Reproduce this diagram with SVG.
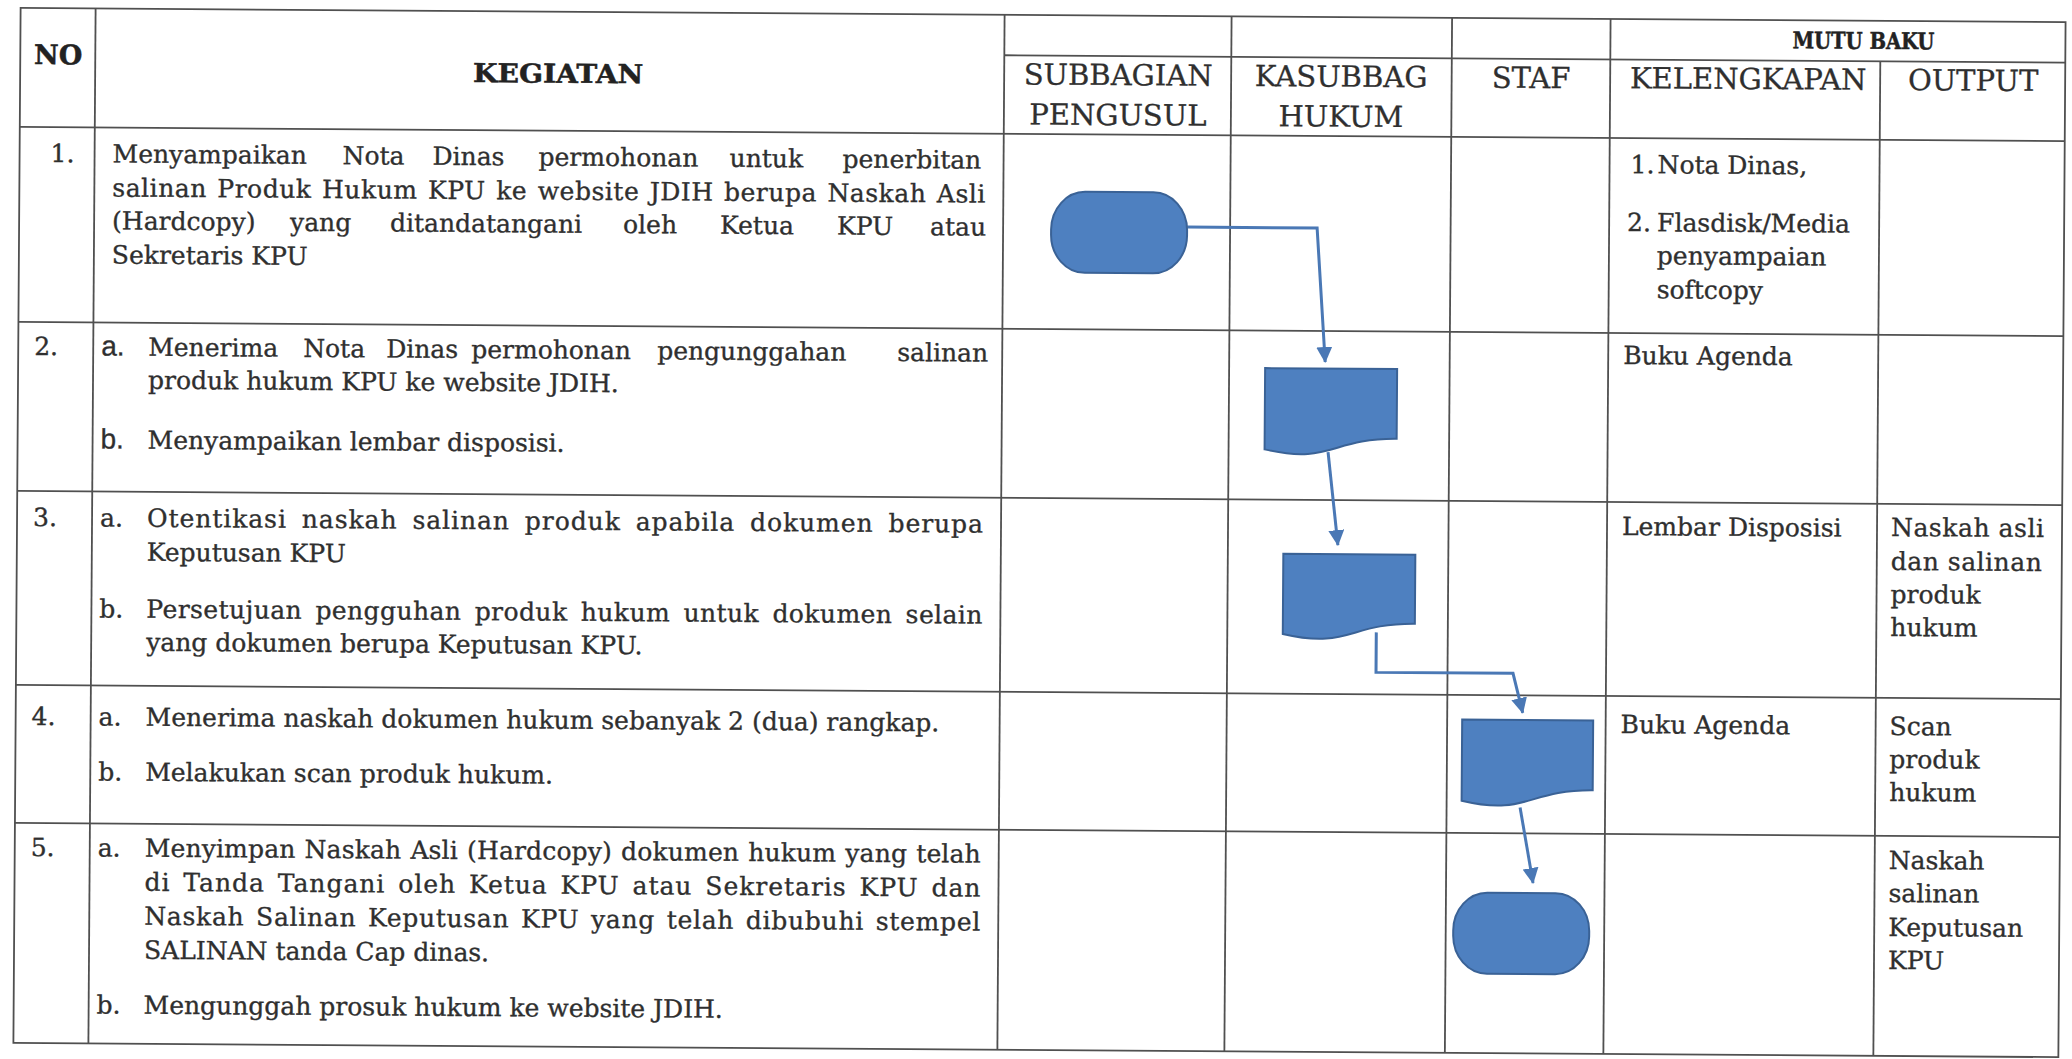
<svg xmlns="http://www.w3.org/2000/svg" width="2072" height="1059" viewBox="0 0 2072 1059">
<defs>
<style>
.grid{stroke:#505050;stroke-width:1.8;fill:none}
.t{font-family:"DejaVu Serif","Liberation Serif",serif;font-size:25px;fill:#2f2f2f;stroke:#2f2f2f;stroke-width:0.35}
.h{font-family:"DejaVu Serif","Liberation Serif",serif;font-size:29px;fill:#2f2f2f;stroke:#2f2f2f;stroke-width:0.3;text-anchor:middle}
.hb{font-family:"DejaVu Serif","Liberation Serif",serif;font-weight:bold;fill:#222;stroke:#222;stroke-width:0.5;text-anchor:middle}
.ab{font-family:"Liberation Sans","DejaVu Sans",sans-serif;font-size:28px;fill:#2f2f2f;stroke:#2f2f2f;stroke-width:0.3}
.shape{fill:#4e80c0;stroke:#3a6296;stroke-width:2}
.conn{fill:none;stroke:#4a78b5;stroke-width:3}
</style>
<marker id="arr" markerUnits="userSpaceOnUse" markerWidth="16" markerHeight="16" viewBox="0 0 16 16" refX="15" refY="8" orient="auto">
<path d="M0,0 L16,8 L0,16 Z" fill="#4a78b5"/>
</marker>
</defs>
<rect width="2072" height="1059" fill="#ffffff"/>
<g transform="rotate(0.4 1036 530)">
<g id="table-grid" class="grid">
<rect x="17" y="15" width="2045" height="1035"/>
<line x1="1001" y1="55.5" x2="2062" y2="55.5"/>
<line x1="17" y1="134" x2="2062" y2="134"/>
<line x1="17" y1="329" x2="2062" y2="329"/>
<line x1="17" y1="498" x2="2062" y2="498"/>
<line x1="17" y1="692" x2="2062" y2="692"/>
<line x1="17" y1="830" x2="2062" y2="830"/>
<line x1="92" y1="15" x2="92" y2="1050"/>
<line x1="1001" y1="15" x2="1001" y2="1050"/>
<line x1="1228" y1="15" x2="1228" y2="1050"/>
<line x1="1448.5" y1="15" x2="1448.5" y2="1050"/>
<line x1="1607" y1="15" x2="1607" y2="1050"/>
<line x1="1877" y1="55.5" x2="1877" y2="1050"/>
</g>
<g id="header">
<text class="hb" x="55" y="71" font-size="27">NO</text>
<text class="hb" x="555" y="86" font-size="26" textLength="170" lengthAdjust="spacingAndGlyphs">KEGIATAN</text>
<text class="hb" x="1860" y="43" font-size="23" textLength="142" lengthAdjust="spacingAndGlyphs">MUTU BAKU</text>
<text class="h" x="1115" y="84.5">SUBBAGIAN</text>
<text class="h" x="1115" y="124.5">PENGUSUL</text>
<text class="h" x="1338" y="84.5">KASUBBAG</text>
<text class="h" x="1338" y="124.5">HUKUM</text>
<text class="h" x="1528" y="84.5">STAF</text>
<text class="h" x="1745" y="84">KELENGKAPAN</text>
<text class="h" x="1970" y="84">OUTPUT</text>
</g>
<g id="row1-text">
<text class="t" x="48" y="169">1.</text>
<text class="t" y="169"><tspan x="110">Menyampaikan</tspan><tspan x="340">Nota</tspan><tspan x="430">Dinas</tspan><tspan x="536">permohonan</tspan><tspan x="727">untuk</tspan><tspan x="840">penerbitan</tspan></text>
<text class="t" x="110" y="203" word-spacing="2" textLength="873" lengthAdjust="spacing">salinan Produk Hukum KPU ke website JDIH berupa Naskah Asli</text>
<text class="t" y="236"><tspan x="110">(Hardcopy)</tspan><tspan x="288">yang</tspan><tspan x="388">ditandatangani</tspan><tspan x="621">oleh</tspan><tspan x="718">Ketua</tspan><tspan x="835">KPU</tspan><tspan x="928">atau</tspan></text>
<text class="t" x="110" y="270">Sekretaris KPU</text>
<text class="t" x="1628" y="169">1.</text>
<text class="t" x="1655" y="169">Nota Dinas,</text>
<text class="t" x="1625" y="227">2.</text>
<text class="t" x="1655" y="227">Flasdisk/Media</text>
<text class="t" x="1655" y="260">penyampaian</text>
<text class="t" x="1655" y="294">softcopy</text>
</g>
<g id="row2-text">
<text class="t" x="33" y="362">2.</text>
<text class="ab" x="100" y="362">a.</text>
<text class="t" y="362"><tspan x="147">Menerima</tspan><tspan x="302">Nota</tspan><tspan x="385">Dinas</tspan><tspan x="470">permohonan</tspan><tspan x="656">pengunggahan</tspan><tspan x="896">salinan</tspan></text>
<text class="t" x="147" y="395">produk hukum KPU ke website JDIH.</text>
<text class="ab" x="100" y="455">b.</text>
<text class="t" x="147" y="455">Menyampaikan lembar disposisi.</text>
<text class="t" x="1622" y="360">Buku Agenda</text>
</g>
<g id="row3-text">
<text class="t" x="33" y="533">3.</text>
<text class="t" x="100" y="533">a.</text>
<text class="t" x="147" y="533" word-spacing="6" textLength="836" lengthAdjust="spacing">Otentikasi naskah salinan produk apabila dokumen berupa</text>
<text class="t" x="147" y="567">Keputusan KPU</text>
<text class="t" x="100" y="624">b.</text>
<text class="t" x="147" y="624" word-spacing="5" textLength="836" lengthAdjust="spacing">Persetujuan pengguhan produk hukum untuk dokumen selain</text>
<text class="t" x="147" y="657">yang dokumen berupa Keputusan KPU.</text>
<text class="t" x="1622" y="531">Lembar Disposisi</text>
<text class="t" x="1891" y="530" textLength="153" lengthAdjust="spacing">Naskah asli</text>
<text class="t" x="1891" y="564" textLength="151" lengthAdjust="spacing">dan salinan</text>
<text class="t" x="1891" y="597">produk</text>
<text class="t" x="1891" y="630">hukum</text>
</g>
<g id="row4-text">
<text class="t" x="33" y="732">4.</text>
<text class="t" x="100" y="732">a.</text>
<text class="t" x="147" y="732">Menerima naskah dokumen hukum sebanyak 2 (dua) rangkap.</text>
<text class="t" x="100" y="787">b.</text>
<text class="t" x="147" y="787">Melakukan scan produk hukum.</text>
<text class="t" x="1622" y="729">Buku Agenda</text>
<text class="t" x="1891" y="729">Scan</text>
<text class="t" x="1891" y="762">produk</text>
<text class="t" x="1891" y="795">hukum</text>
</g>
<g id="row5-text">
<text class="t" x="33" y="863">5.</text>
<text class="t" x="100" y="863">a.</text>
<text class="t" x="147" y="863" word-spacing="1" textLength="836" lengthAdjust="spacing">Menyimpan Naskah Asli (Hardcopy) dokumen hukum yang telah</text>
<text class="t" x="147" y="897" word-spacing="4" textLength="836" lengthAdjust="spacing">di Tanda Tangani oleh Ketua KPU atau Sekretaris KPU dan</text>
<text class="t" x="147" y="931" word-spacing="3" textLength="836" lengthAdjust="spacing">Naskah Salinan Keputusan KPU yang telah dibubuhi stempel</text>
<text class="t" x="147" y="965">SALINAN tanda Cap dinas.</text>
<text class="t" x="100" y="1020">b.</text>
<text class="t" x="147" y="1020">Mengunggah prosuk hukum ke website JDIH.</text>
<text class="t" x="1891" y="863">Naskah</text>
<text class="t" x="1891" y="896">salinan</text>
<text class="t" x="1891" y="930">Keputusan</text>
<text class="t" x="1891" y="963">KPU</text>
</g>
<g id="connectors">
<path class="conn" d="M1185,226 H1315 L1324,360" marker-end="url(#arr)"/>
<path class="conn" d="M1327.5,450 L1338,543" marker-end="url(#arr)"/>
<path class="conn" d="M1377,630 V670 H1514 L1524,709.5" marker-end="url(#arr)"/>
<path class="conn" d="M1522,804 L1535.5,879.5" marker-end="url(#arr)"/>
</g>
<g id="node-start">
<rect class="shape" x="1049" y="191.5" width="136" height="81" rx="34" ry="38"/>
</g>
<g id="node-terima">
<path class="shape" d="M1264,366.5 H1396 V436.3 C1330,436.3 1330,462.8 1264,447.8 Z"/>
</g>
<g id="node-otentikasi">
<path class="shape" d="M1283.5,552 H1415.5 V621 C1349.5,621 1349.5,647.2 1283.5,632.3 Z"/>
</g>
<g id="node-scan">
<path class="shape" d="M1463.5,716.5 H1594.5 V786.3 C1529,786.3 1529,812.8 1463.5,797.8 Z"/>
</g>
<g id="node-end">
<rect class="shape" x="1456" y="889.5" width="136" height="81" rx="34" ry="38"/>
</g>
</g>
</svg>
